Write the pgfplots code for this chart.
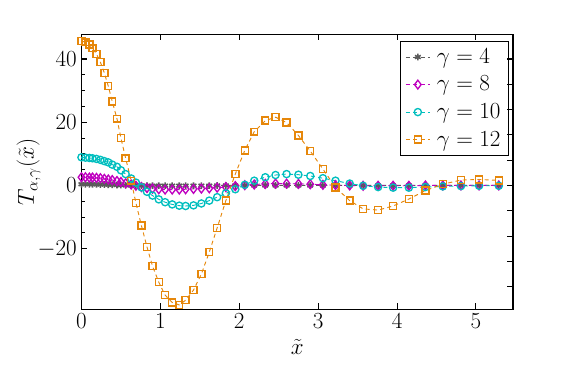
\documentclass[border=0pt]{standalone}
\usepackage{pgfplots}
\pgfplotsset{compat=1.18}
\usepackage{pgfplotstable}

\definecolor{cfour}{RGB}{90,90,90}
\definecolor{ceight}{RGB}{191,0,191}
\definecolor{cten}{RGB}{0,190,190}
\definecolor{ctwelve}{RGB}{230,135,10}

\pgfplotstableread{
x     g4     g8     g10    g12
0.00  0.40   2.6    8.9    45.7
0.05  0.40   2.6    8.8    45.3
0.10  0.40   2.5    8.7    44.6
0.14  0.40   2.5    8.6    43.4
0.19  0.35   2.4    8.4    41.6
0.24  0.30   2.3    8.1    39.0
0.29  0.30   2.1    7.7    35.6
0.34  0.25   1.9    7.3    31.4
0.39  0.20   1.7    6.6    26.6
0.45  0.15   1.4    5.9    21.1
0.50  0.10   1.1    4.8    15.0
0.56  0.05   0.7    3.6    8.6
0.63  0.00   0.3    2.2    1.5
0.69  0.00  -0.1    0.9   -5.5
0.76  0.00  -0.5   -0.6   -12.7
0.83 -0.05  -0.8   -2.0   -19.4
0.90 -0.05  -1.0   -3.2   -25.5
0.98 -0.05  -1.2   -4.4   -30.6
1.06 -0.05  -1.3   -5.3   -34.7
1.15 -0.05  -1.3   -6.0   -37.0
1.24 -0.05  -1.3   -6.4   -37.8
1.32 -0.05  -1.2   -6.5   -36.3
1.42 -0.05  -1.1   -6.3   -33.1
1.52 -0.05  -1.0   -5.7   -28.0
1.62 -0.05  -0.9   -4.8   -21.1
1.72  0.00  -0.7   -3.7   -13.4
1.83  0.00  -0.5   -2.5   -4.8
1.95  0.00  -0.2   -1.2    3.6
2.07  0.00   0.1    0.2    11.1
2.19  0.00   0.3    1.5    17.0
2.33  0.00   0.5    2.6    20.5
2.46  0.00   0.6    3.3    21.6
2.60  0.00   0.6    3.6    19.9
2.75  0.00   0.5    3.4    15.8
2.90  0.00   0.4    3.0    10.9
3.06  0.00   0.2    2.3    5.2
3.22  0.00   0.1    1.5   -0.6
3.40  0.00   0.0    0.6   -4.8
3.57  0.00  -0.1   -0.1   -7.4
3.76  0.00  -0.1   -0.5   -7.8
3.95  0.00  -0.1   -0.7   -6.5
4.15  0.00  -0.1   -0.7   -4.3
4.36  0.00   0.0   -0.5   -1.6
4.58  0.00   0.0   -0.3    0.4
4.81  0.00   0.0   -0.2    1.7
5.04  0.00   0.0   -0.1    1.9
5.29  0.00   0.0   -0.1    1.6
}\tdata

\begin{document}
\begin{tikzpicture}
\path[use as bounding box] (-61.1pt,-58.3pt) rectangle (374.6pt,232pt);
\begin{axis}[
    at={(0,0)}, anchor=south west,
    width=323.6pt, height=206.25pt, scale only axis,
    xmin=0, xmax=5.47, ymin=-39.2, ymax=47.8,
    xtick={0,1,2,3,4,5}, ytick={-20,0,20,40},
    minor y tick num=3,
    ytick pos=left,
    tick align=inside,
    major tick length=4.5pt, minor tick length=2.5pt,
    axis line style={line width=1pt},
    every tick/.style={black, line width=0.8pt},
    tick label style={font=\fontsize{17.28}{20}\selectfont},
    label style={font=\fontsize{17.28}{20}\selectfont},
    xlabel={$\tilde{x}$}, ylabel={$T_{\alpha,\gamma}(\tilde{x})$},
    xlabel style={yshift=-1pt},
    ylabel style={yshift=-9pt},
    legend cell align=left,
    legend style={at={(1,1)}, anchor=north east, xshift=-3pt, yshift=-4.8pt,
        draw=black, line width=0.8pt, fill=white,
        font=\fontsize{17.28}{20}\selectfont, row sep=4pt,
        inner xsep=4pt, inner ysep=3.5pt,
        /tikz/every odd column/.append style={column sep=3pt}},
    legend image code/.code={\draw[mark repeat=2,mark phase=2,#1]
        plot coordinates {(0pt,0pt)(9pt,0pt)(18pt,0pt)};},
    every axis plot/.append style={line width=0.7pt, dash pattern=on 3pt off 2.5pt},
]
\addplot[cfour, mark=asterisk, mark size=2.5pt, mark options={solid, line width=1.2pt}]
    table[x=x, y=g4] {\tdata};
\addlegendentry{$\gamma = 4$}
\addplot[ceight, mark=diamond, mark size=3.3pt, mark options={solid, line width=1pt}]
    table[x=x, y=g8] {\tdata};
\addlegendentry{$\gamma = 8$}
\addplot[cten, mark=o, mark size=2.7pt, mark options={solid, line width=1pt}]
    table[x=x, y=g10] {\tdata};
\addlegendentry{$\gamma = 10$}
\addplot[ctwelve, mark=square, mark size=2.6pt, mark options={solid, line width=1.1pt}]
    table[x=x, y=g12] {\tdata};
\addlegendentry{$\gamma = 12$}
\end{axis}
\begin{axis}[
    at={(0,0)}, anchor=south west,
    width=323.6pt, height=206.25pt, scale only axis,
    xmin=0, xmax=5.47, ymin=-39.2, ymax=47.8,
    axis x line=none, axis y line*=right,
    ytick={-32,-24,-16,-8,0,8,16,24,32,40}, yticklabels={},
    tick align=inside, major tick length=4.5pt,
    axis line style={line width=1pt},
    every tick/.style={black, line width=0.8pt},
]
\end{axis}
\end{tikzpicture}
\end{document}
